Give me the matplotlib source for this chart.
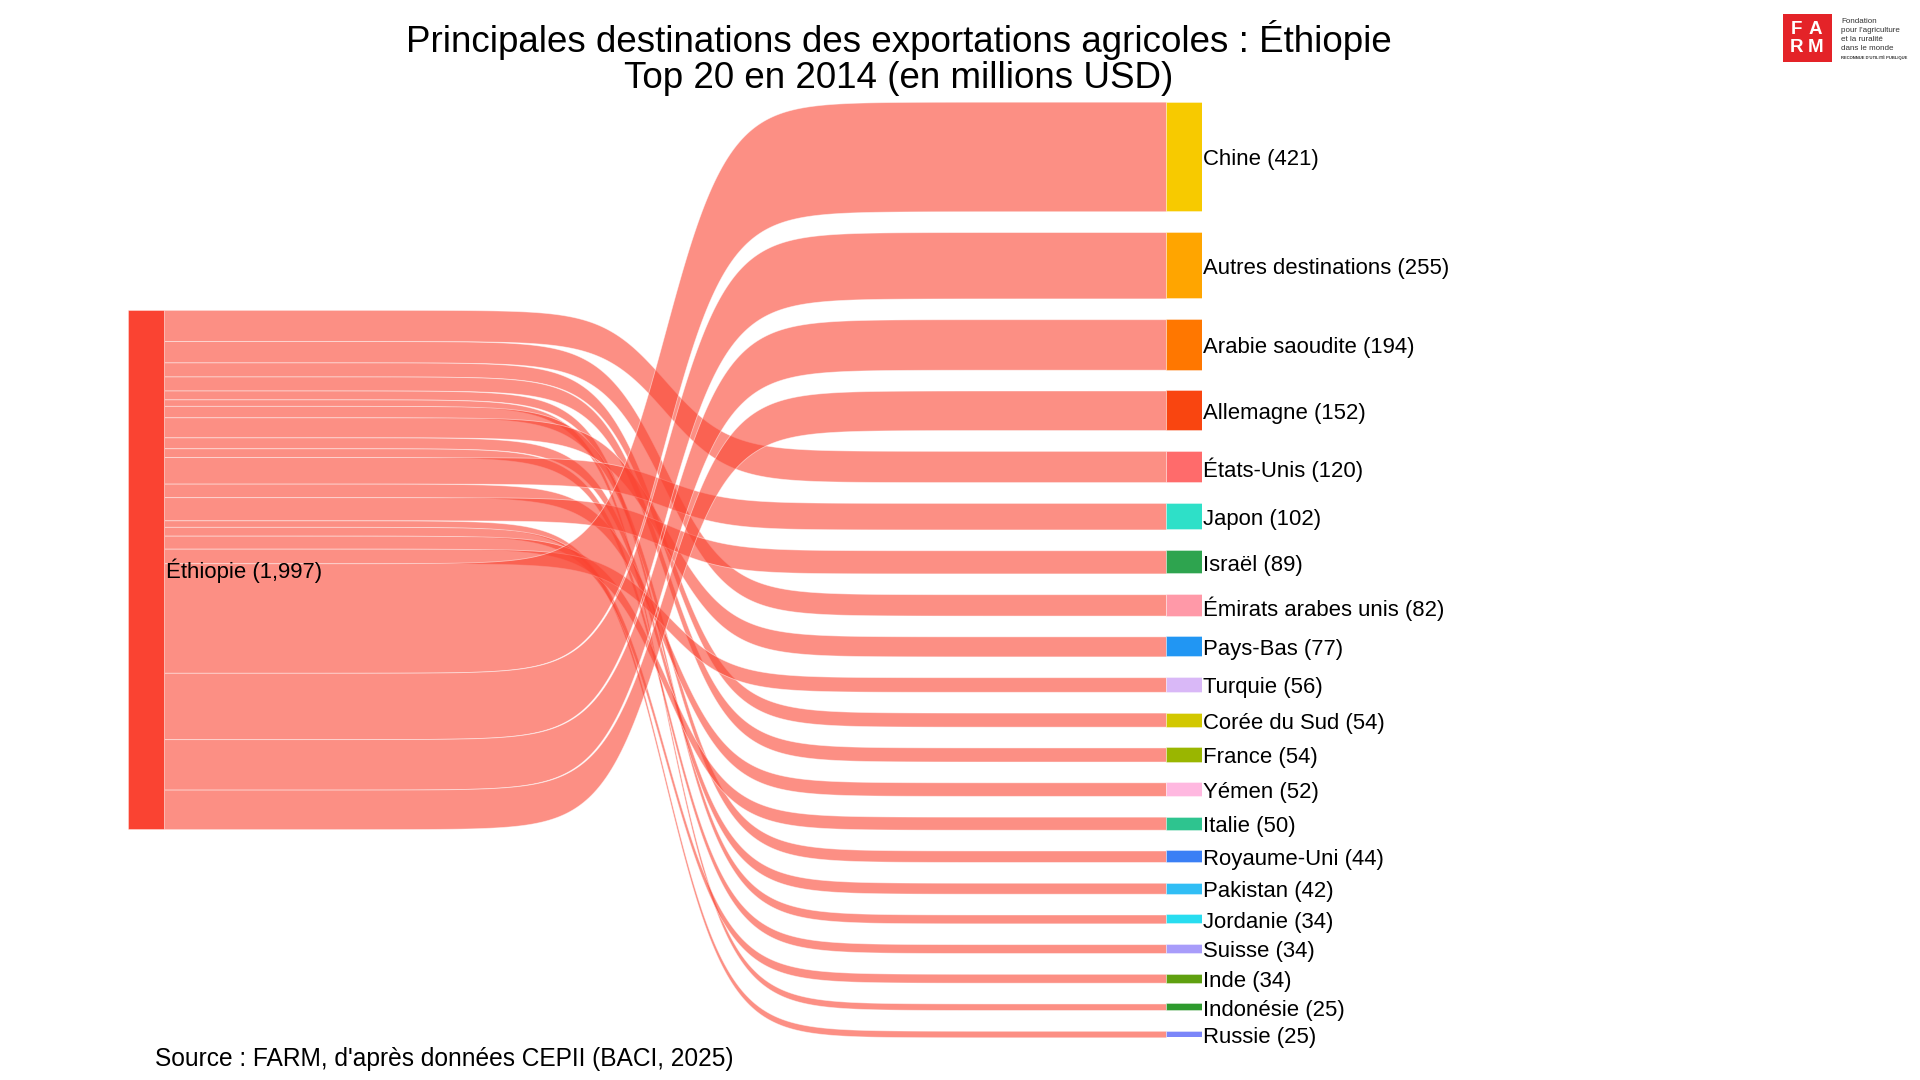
import numpy as np
import matplotlib
matplotlib.use("Agg")
import matplotlib.pyplot as plt
from matplotlib.patches import Rectangle

plt.rcParams['font.family'] = ['Liberation Sans', 'DejaVu Sans']

# ---------------- data ----------------
source_name = "Éthiopie"
source_total = 1997

targets = ["Chine", "Autres destinations", "Arabie saoudite", "Allemagne", "États-Unis",
           "Japon", "Israël", "Émirats arabes unis", "Pays-Bas", "Turquie",
           "Corée du Sud", "France", "Yémen", "Italie", "Royaume-Uni",
           "Pakistan", "Jordanie", "Suisse", "Inde", "Indonésie", "Russie"]
values = [421, 255, 194, 152, 120, 102, 89, 82, 77, 56,
          54, 54, 52, 50, 44, 42, 34, 34, 34, 25, 25]
node_colors = ["#F7CA00", "#FFA500", "#FF7700", "#F94510", "#FF6B6B",
               "#2EE0C8", "#2EA44F", "#FF99A8", "#2196F3", "#D9B8F7",
               "#D2C800", "#9AB600", "#FFB8E0", "#2EC48F", "#3A7FF5",
               "#30BEF5", "#28DDF0", "#A89CFA", "#5FA010", "#2E9A2E", "#7B86F9"]
source_color = "#FA4332"
link_color = (250/255, 68/255, 50/255, 0.6)

# order in which links leave the source node (top to bottom)
link_order = ["États-Unis", "Émirats arabes unis", "Corée du Sud", "France", "Jordanie",
              "Indonésie", "Royaume-Uni", "Pays-Bas", "Pakistan", "Suisse", "Japon",
              "Yémen", "Israël", "Russie", "Inde", "Italie", "Turquie",
              "Chine", "Autres destinations", "Arabie saoudite", "Allemagne"]

title_lines = ["Principales destinations des exportations agricoles : Éthiopie",
               "Top 20 en 2014 (en millions USD)"]
source_note = "Source : FARM, d'après données CEPII (BACI, 2025)"

# ---------------- layout ----------------
W, H = 1920, 1080
fig = plt.figure(figsize=(W/100, H/100), dpi=100)
fig.patch.set_facecolor("white")

PAD = 80.0          # gap between target nodes (value units)
NW = 0.0335         # node width (axes x units)
LABEL_DY = 13.0     # small downward label offset (value units)
total_extent = sum(values) + PAD * (len(values) - 1)

ax = fig.add_axes([128/W, 1 - 1037.3/H, (1202-128)/W, (1037.3-101.7)/H])
ax.set_xlim(0, 1)
ax.set_ylim(total_extent, 0)
ax.axis("off")

# target node positions
tgt_top = {}
y = 0.0
for name, v in zip(targets, values):
    tgt_top[name] = y
    y += v + PAD
val = dict(zip(targets, values))
col = dict(zip(targets, node_colors))

src_sum = sum(values)
src_top = (total_extent - src_sum) / 2.0

# links
u = np.linspace(0, 1, 400)
a = 32.0
lg = 1 / (1 + np.exp(-a * (u - 0.5)))
f = (lg - lg[0]) / (lg[-1] - lg[0])
xs = NW + u * (1 - 2 * NW)
sy = src_top
for name in link_order:
    v = val[name]
    ty = tgt_top[name]
    top = sy + (ty - sy) * f
    ax.fill_between(xs, top, top + v, facecolor=link_color,
                    edgecolor=(1, 1, 1, 0.5), linewidth=0.6, zorder=2)
    sy += v

# source node
ax.add_patch(Rectangle((0, src_top), NW, src_sum, facecolor=source_color,
                       edgecolor=(1, 1, 1, 0.5), linewidth=0.5, zorder=3))
ax.text(NW + 0.002, src_top + src_sum / 2 + LABEL_DY * 0.4, f"{source_name} ({source_total:,})",
        ha="left", va="center", fontsize=15.9, color="black", zorder=5)

# target nodes
for name in targets:
    ax.add_patch(Rectangle((1 - NW, tgt_top[name]), NW, val[name],
                           facecolor=col[name], edgecolor=(1, 1, 1, 0.5),
                           linewidth=0.5, zorder=3))
    ax.text(1.001, tgt_top[name] + val[name] / 2 + LABEL_DY, f"{name} ({val[name]})",
            ha="left", va="center", fontsize=15.9, color="black", zorder=5,
            clip_on=False)

# titles
fig.text(899/W, 1 - 39.5/H, title_lines[0], ha="center", va="center",
         fontsize=26.5, color="black")
fig.text(899/W, 1 - 78.5/H, title_lines[1], ha="center", va="center",
         fontsize=26.5, color="black")
fig.text(155/W, 1 - 1059/H, source_note, ha="left", va="center",
         fontsize=17.65, color="black")

# logo
lax = fig.add_axes([1783/W, 1 - 62/H, 49/W, 48/H])
lax.set_xlim(0, 1); lax.set_ylim(0, 1); lax.axis("off")
lax.add_patch(Rectangle((0, 0), 1, 1, facecolor="#E42328", edgecolor="none"))
for (tx, ty, ch) in [(0.27, 0.67, "F"), (0.66, 0.67, "A"), (0.27, 0.31, "R"), (0.66, 0.31, "M")]:
    lax.text(tx, ty, ch, ha="center", va="center", color="white",
             fontsize=13.5, fontweight="bold")
logo_lines = ["Fondation", "pour l'agriculture", "et la ruralité", "dans le monde"]
for i, line in enumerate(logo_lines):
    fig.text(1841/W, 1 - (21.7 + 9.0 * i)/H, line, ha="left", va="center",
             fontsize=5.8, color="#333333")
fig.text(1841/W, 1 - 57.7/H, "RECONNUE D'UTILITÉ PUBLIQUE", ha="left", va="center",
         fontsize=3.0, color="#333333", fontweight="bold")

fig.savefig("out.png", dpi=100, facecolor="white")
